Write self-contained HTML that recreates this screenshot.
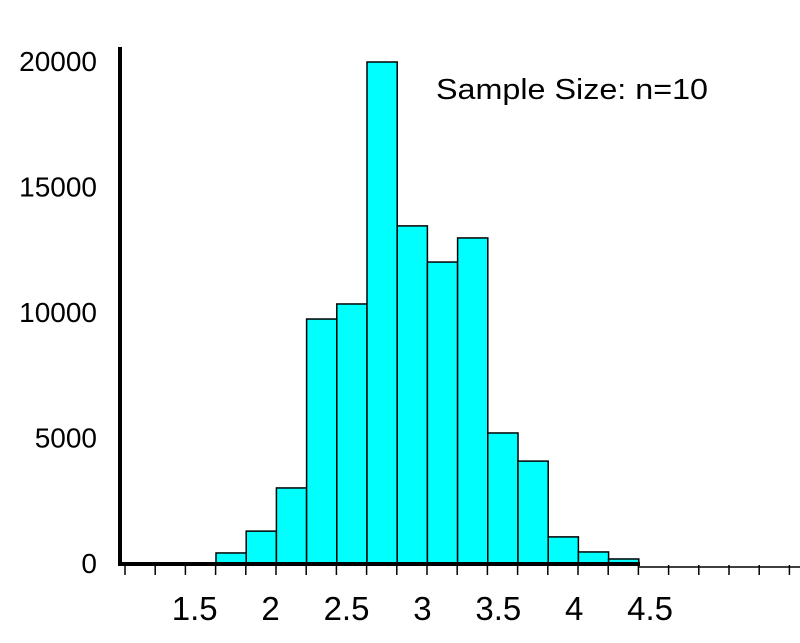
<!DOCTYPE html>
<html><head><meta charset="utf-8"><style>
body{margin:0;background:#fff}
svg{display:block;font-family:"Liberation Sans",Arial,sans-serif}
</style></head><body>
<svg id="chart" width="800" height="643" viewBox="0 0 800 643">
<g id="bars"></g>
<g id="axes"></g>
<text x="436" y="99" font-size="29" fill="#000" textLength="272" lengthAdjust="spacingAndGlyphs">Sample Size:  n=10</text>
</svg>
<script>
const counts = [400, 1270, 2990, 9720, 10320, 19960, 13430, 11990, 12950, 5180, 4060, 1040, 440, 160];
const yTicks = [0, 5000, 10000, 15000, 20000];
const xTickLabels = ["1.5", "2", "2.5", "3", "3.5", "4", "4.5"];
const xTickValues = [1.5, 2, 2.5, 3, 3.5, 4, 4.5];

const NS = "http://www.w3.org/2000/svg";
const y0 = 563, yTop = 61;
function yScale(v){ return y0 - v * (y0 - yTop) / 20000; }
function binX(i){ return 216 + i * 30.2; }
function labelX(v){ return 422.4 + (v - 3) * 151.8; }
function mk(tag, attrs, parent){
  const e = document.createElementNS(NS, tag);
  for (const k in attrs) e.setAttribute(k, attrs[k]);
  parent.appendChild(e); return e;
}
const bars = document.getElementById('bars');
const axes = document.getElementById('axes');
counts.forEach((c, i) => {
  const r = mk('rect', {x: binX(i), y: yScale(c), width: 30.2, height: y0 - yScale(c), fill: '#00ffff', stroke: '#000', 'stroke-width': 1.5}, bars);
  
  
});
let l = mk('line', {x1: 120, y1: 47, x2: 120, y2: 565, stroke: '#000', 'stroke-width': 4}, axes);


l = mk('line', {x1: 118, y1: 564, x2: 640, y2: 564, stroke: '#000', 'stroke-width': 4}, axes);


l = mk('line', {x1: 638, y1: 567, x2: 800, y2: 567, stroke: '#000', 'stroke-width': 1.5}, axes);


for (let i = 0; i < 23; i++) {
  const x = 125 + i * 30.2;
  const t = mk('line', {x1: x, y1: 565, x2: x, y2: 575, stroke: '#000', 'stroke-width': 1.5}, axes);
  
  
}
yTicks.forEach(v => {
  const t = mk('text', {x: 97, y: yScale(v) + 10, 'font-size': 28, 'text-anchor': 'end', fill: '#000'}, axes);
  t.textContent = String(v);
  
  
});
xTickValues.forEach((v, i) => {
  const t = mk('text', {x: labelX(v), y: 620, 'font-size': 33, 'text-anchor': 'middle', fill: '#000'}, axes);
  t.textContent = xTickLabels[i];
  
  
});
</script>
</body></html>
